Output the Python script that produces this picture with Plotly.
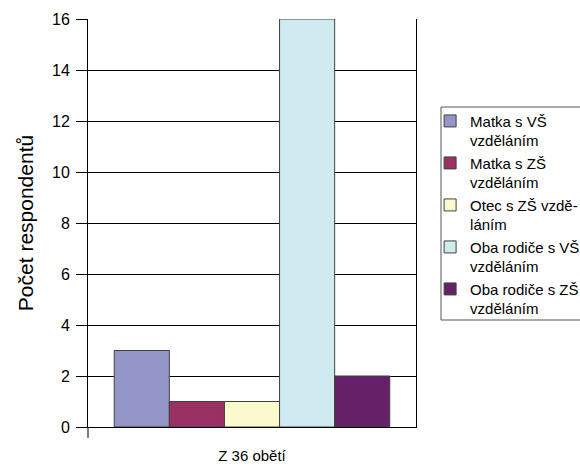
import plotly.graph_objects as go

categories = ["Z 36 obětí"]
series_names = [
    "Matka s VŠ<br>vzděláním",
    "Matka s ZŠ<br>vzděláním",
    "Otec s ZŠ vzdě-<br>láním",
    "Oba rodiče s VŠ<br>vzděláním",
    "Oba rodiče s ZŠ<br>vzděláním",
]
series_values = [3, 1, 1, 16, 2]
series_colors = ["#9596c8", "#993163", "#fafacc", "#cfebf0", "#652167"]
y_ticks = [0, 2, 4, 6, 8, 10, 12, 14, 16]

FONT = "Liberation Sans, Arial, sans-serif"

fig = go.Figure()
for name, val, col in zip(series_names, series_values, series_colors):
    fig.add_trace(go.Bar(
        x=categories, y=[val], name=name,
        marker=dict(color=col, line=dict(color="#404040", width=1)),
    ))

fig.update_layout(
    width=580, height=468,
    margin=dict(l=88, r=164, t=19, b=41, autoexpand=False),
    paper_bgcolor="white", plot_bgcolor="white",
    font=dict(family=FONT, color="black", size=15),
    barmode="group", bargap=0.16, bargroupgap=0,
    showlegend=True,
    legend=dict(
        x=1.043, y=0.79, xanchor="left", yanchor="top",
        bgcolor="rgba(0,0,0,0)", borderwidth=0,
        font=dict(family=FONT, size=15, color="black"),
        valign="top", traceorder="normal",
        itemclick=False,
    ),
)
fig.update_yaxes(
    range=[0, 16], tickvals=y_ticks, ticks="outside", ticklen=11,
    tickcolor="black", showline=True, linecolor="black", linewidth=1,
    mirror=True, showgrid=True, gridcolor="black", gridwidth=1,
    zeroline=False, ticklabelstandoff=3,
    tickfont=dict(family=FONT, size=16),
    title=dict(text="Počet respondentů", font=dict(family=FONT, size=21), standoff=12),
)
fig.update_xaxes(
    showline=True, linecolor="black", linewidth=1, ticks="",
    tickfont=dict(family=FONT, size=15), ticklabelstandoff=15,
    showgrid=False, zeroline=False,
)
# small tick below the axis corner
fig.add_shape(type="line", xref="paper", yref="paper", x0=0, x1=0, y0=0, y1=-0.027,
              line=dict(color="black", width=1))
# legend frame
fig.add_shape(type="rect", xref="paper", yref="paper",
              x0=(441 - 88) / 328, x1=1.6, y0=(427 - 320) / 408, y1=(427 - 107) / 408,
              line=dict(color="#555555", width=1), fillcolor="rgba(0,0,0,0)", layer="below")

fig.write_html("out.html", config={"displayModeBar": False},
               post_script="document.body.style.margin='0';")
